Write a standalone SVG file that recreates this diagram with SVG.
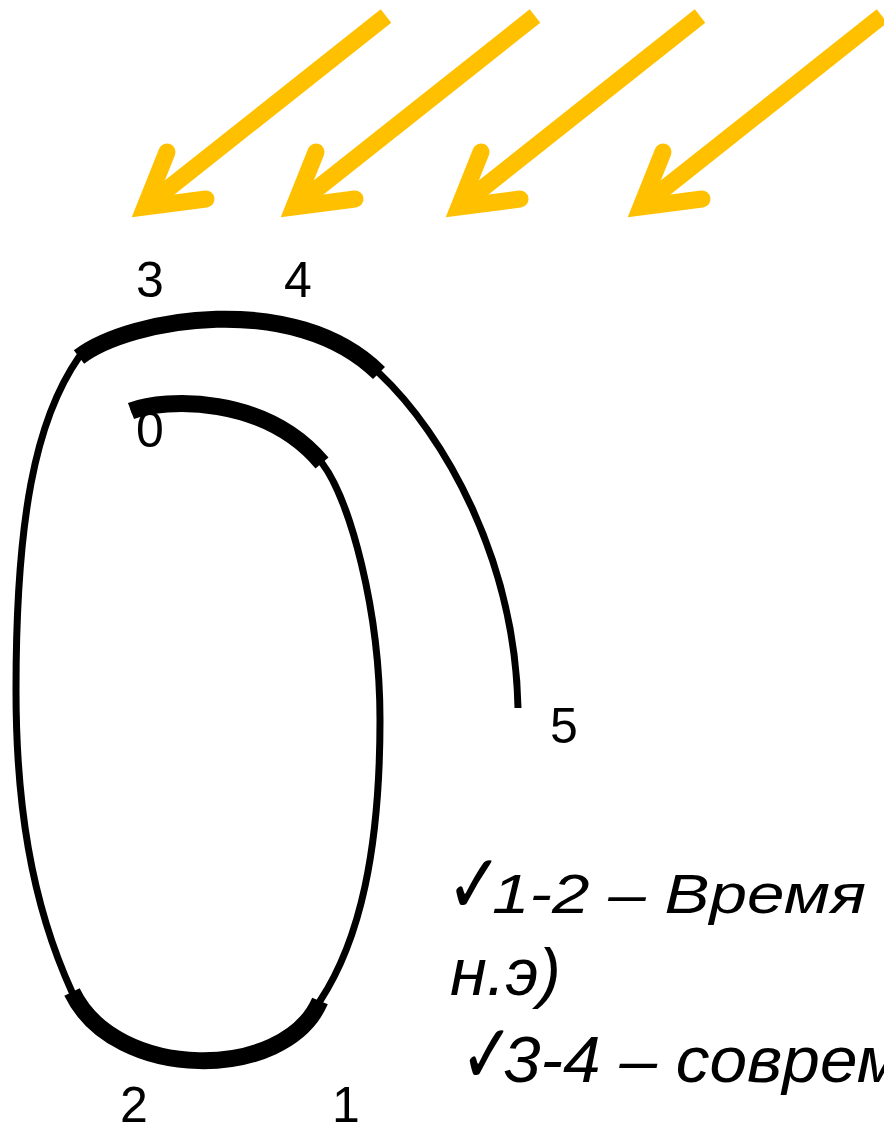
<svg xmlns="http://www.w3.org/2000/svg" width="884" height="1127" viewBox="0 0 884 1127">
  <style>
    .thin { fill: none; stroke: #000; stroke-width: 7; stroke-linecap: butt; }
    .thick { fill: none; stroke: #000; stroke-width: 17; stroke-linecap: butt; }
    .lbl { font-family: "Liberation Sans", Arial, sans-serif; font-size: 50px; fill: #000; }
    .txt { font-family: "Liberation Sans", Arial, sans-serif; font-style: italic; fill: #000; }
    .chk { font-family: "DejaVu Sans", sans-serif; font-size: 62px; fill: #000; }
    .ray-line { fill: none; stroke: #FFC000; stroke-width: 17; stroke-linecap: butt; }
    .ray-head { fill: none; stroke: #FFC000; stroke-width: 17; stroke-linecap: round; stroke-linejoin: miter; stroke-miterlimit: 10; }
  </style>
  <defs>
    <g id="ray">
      <line class="ray-line" x1="254" y1="-203" x2="18" y2="-16"/>
      <polyline class="ray-head" points="35,-67 13,-12 74,-20"/>
    </g>
  </defs>

  <g id="rays">
    <use href="#ray" x="132" y="219"/>
    <use href="#ray" x="281" y="219"/>
    <use href="#ray" x="446" y="219"/>
    <use href="#ray" x="628" y="219"/>
  </g>

  <g id="connectors">
    <path id="spiral-thin" class="thin" d="M131,411 C165,398 265,395 322,463 C350,500 380,610 380,720 C380,850 360,940 320,1001 C285,1082 115,1082 72,992 C30,900 16,800 16,690 C16,520 35,420 79,357 C130,318 295,290 379,373 C445,435 515,560 518,708"/>
    <path id="seg-0" class="thick" d="M131,411 C165,398 265,395 322,463"/>
    <path id="seg-1-2" class="thick" d="M320,1001 C285,1082 115,1082 72,992"/>
    <path id="seg-3-4" class="thick" d="M79,357 C130,318 295,290 379,373"/>
  </g>

  <g id="labels">
    <text class="lbl" x="136" y="297">3</text>
    <text class="lbl" x="284" y="297">4</text>
    <text class="lbl" x="136" y="447">0</text>
    <text class="lbl" x="550" y="743">5</text>
    <text class="lbl" x="120" y="1122">2</text>
    <text class="lbl" x="332" y="1122">1</text>
  </g>

  <g id="legend">
    <text class="chk" transform="translate(446,913) scale(1.1,1.35)">✓</text>
    <text class="txt" x="492" y="913" font-size="56" textLength="374" lengthAdjust="spacingAndGlyphs">1-2 – Время</text>
    <text class="txt" x="450" y="995" font-size="67">н.э)</text>
    <text class="chk" transform="translate(460,1083) scale(1.05,1.35)">✓</text>
    <text class="txt" x="503" y="1082" font-size="65" textLength="400" lengthAdjust="spacingAndGlyphs">3-4 – соврем</text>
  </g>
</svg>
